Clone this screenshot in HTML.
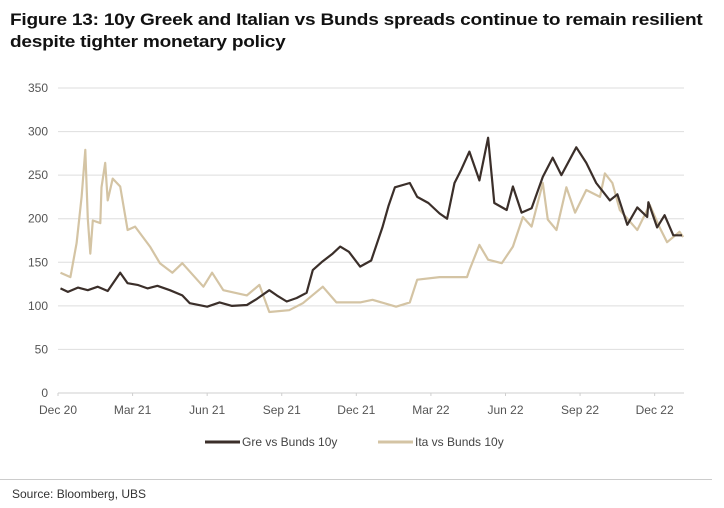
<!DOCTYPE html>
<html><head><meta charset="utf-8"><style>
body{margin:0;background:#fff;width:724px;height:508px;overflow:hidden;font-family:"Liberation Sans",sans-serif}
#title{position:absolute;left:10px;top:9px;font-weight:bold;font-size:17px;line-height:22px;color:#111;white-space:nowrap;letter-spacing:-0.2px;transform:scaleX(1.12);transform-origin:0 0}
#src{position:absolute;left:12px;top:487px;font-size:12px;color:#333}
#sep{position:absolute;left:0;top:479px;width:712px;height:1px;background:#ccc}
svg{position:absolute;left:0;top:0}
</style></head><body>
<div id="title">Figure 13: 10y Greek and Italian vs Bunds spreads continue to remain resilient<br>despite tighter monetary policy</div>
<svg id="chart" width="724" height="508"></svg>
<div id="sep"></div>
<div id="src">Source: Bloomberg, UBS</div>
<script>
const yTicks=[0,50,100,150,200,250,300,350];
const xLabels=["Dec 20","Mar 21","Jun 21","Sep 21","Dec 21","Mar 22","Jun 22","Sep 22","Dec 22"];
const xLabelMonths=[0,3,6,9,12,15,18,21,24];
const greMonths=[0.1,0.4,0.8,1.2,1.6,2.0,2.5,2.8,3.2,3.6,4.0,4.5,5.0,5.3,6.0,6.5,7.0,7.6,8.0,8.5,8.8,9.2,9.6,10.0,10.25,10.6,11.05,11.35,11.7,12.15,12.6,13.05,13.3,13.55,14.15,14.45,14.9,15.35,15.65,15.95,16.2,16.55,16.95,17.3,17.55,18.05,18.3,18.65,19.05,19.5,19.9,20.25,20.85,21.25,21.65,22.2,22.5,22.9,23.3,23.7,23.75,24.1,24.4,24.75,25.1];
const greVals=[120,116,121,118,122,117,138,126,124,120,123,118,112,103,99,104,100,101,108,118,112,105,109,115,141,150,160,168,162,145,152,190,215,236,241,225,218,206,200,241,255,277,244,293,218,210,237,207,212,248,270,250,282,264,241,221,228,193,213,202,219,190,204,181,181];
const itaMonths=[0.1,0.5,0.75,0.95,1.1,1.2,1.3,1.4,1.7,1.75,1.9,2.0,2.2,2.5,2.8,3.1,3.7,4.1,4.6,5.0,5.85,6.2,6.65,7.6,8.1,8.5,9.3,9.85,10.65,11.2,12.15,12.65,13.6,14.15,14.45,15.35,16.45,16.55,16.95,17.3,17.85,18.3,18.7,19.05,19.5,19.7,20.05,20.45,20.8,21.25,21.8,22.0,22.3,22.6,23.3,23.8,24.2,24.5,25.0,25.15];
const itaVals=[138,133,172,225,279,200,160,198,195,236,264,221,246,237,187,191,168,149,138,149,122,138,118,112,124,93,95,103,122,104,104,107,99,104,130,133,133,141,170,153,149,168,202,191,241,199,187,236,207,233,225,252,241,210,187,216,190,173,185,179];
const NS="http://www.w3.org/2000/svg";
const svg=document.getElementById('chart');
const x0=58,x1=682,mEnd=25.1,yBase=393,yTop=88,yMax=350;
function xs(m){return x0+(m/mEnd)*(x1-x0);}
function ys(v){return yBase-(v/yMax)*(yBase-yTop);}
function mk(t,a){const e=document.createElementNS(NS,t);for(const k in a)e.setAttribute(k,a[k]);svg.appendChild(e);return e;}
yTicks.forEach(v=>{
 const l=mk('line',{x1:58,x2:684,y1:ys(v),y2:ys(v),stroke:v===0?'#cfcfcf':'#dedede','stroke-width':1});
 
 
 const t=mk('text',{x:48,y:ys(v)+4,'text-anchor':'end','font-size':12,fill:'#555'});t.textContent=v;
 
 
});
xLabels.forEach((s,i)=>{
 const px=xs(xLabelMonths[i]);
 mk('line',{x1:px,x2:px,y1:393,y2:396,stroke:'#cfcfcf'});
 const t=mk('text',{x:px,y:414,'text-anchor':'middle','font-size':12,fill:'#555'});t.textContent=s;
 
 
});
function series(ms,vs,col,name){
 const d=ms.map((m,i)=>(i?'L':'M')+xs(m).toFixed(1)+','+ys(vs[i]).toFixed(1)).join('');
 const p=mk('path',{d:d,fill:'none',stroke:col,'stroke-width':2.2,'stroke-linejoin':'round'});
 
 
}
series(itaMonths,itaVals,'#d4c4a4','ita-series-line');
series(greMonths,greVals,'#3b2f2a','gre-series-line');
const lg=[['#3b2f2a','Gre vs Bunds 10y',205],['#d4c4a4','Ita vs Bunds 10y',378]];
lg.forEach(([c,s,x])=>{
 mk('line',{x1:x,x2:x+35,y1:442,y2:442,stroke:c,'stroke-width':3});
 const t=mk('text',{x:x+37,y:446,'font-size':12,fill:'#444'});t.textContent=s;
 
 
});
</script>
</body></html>
